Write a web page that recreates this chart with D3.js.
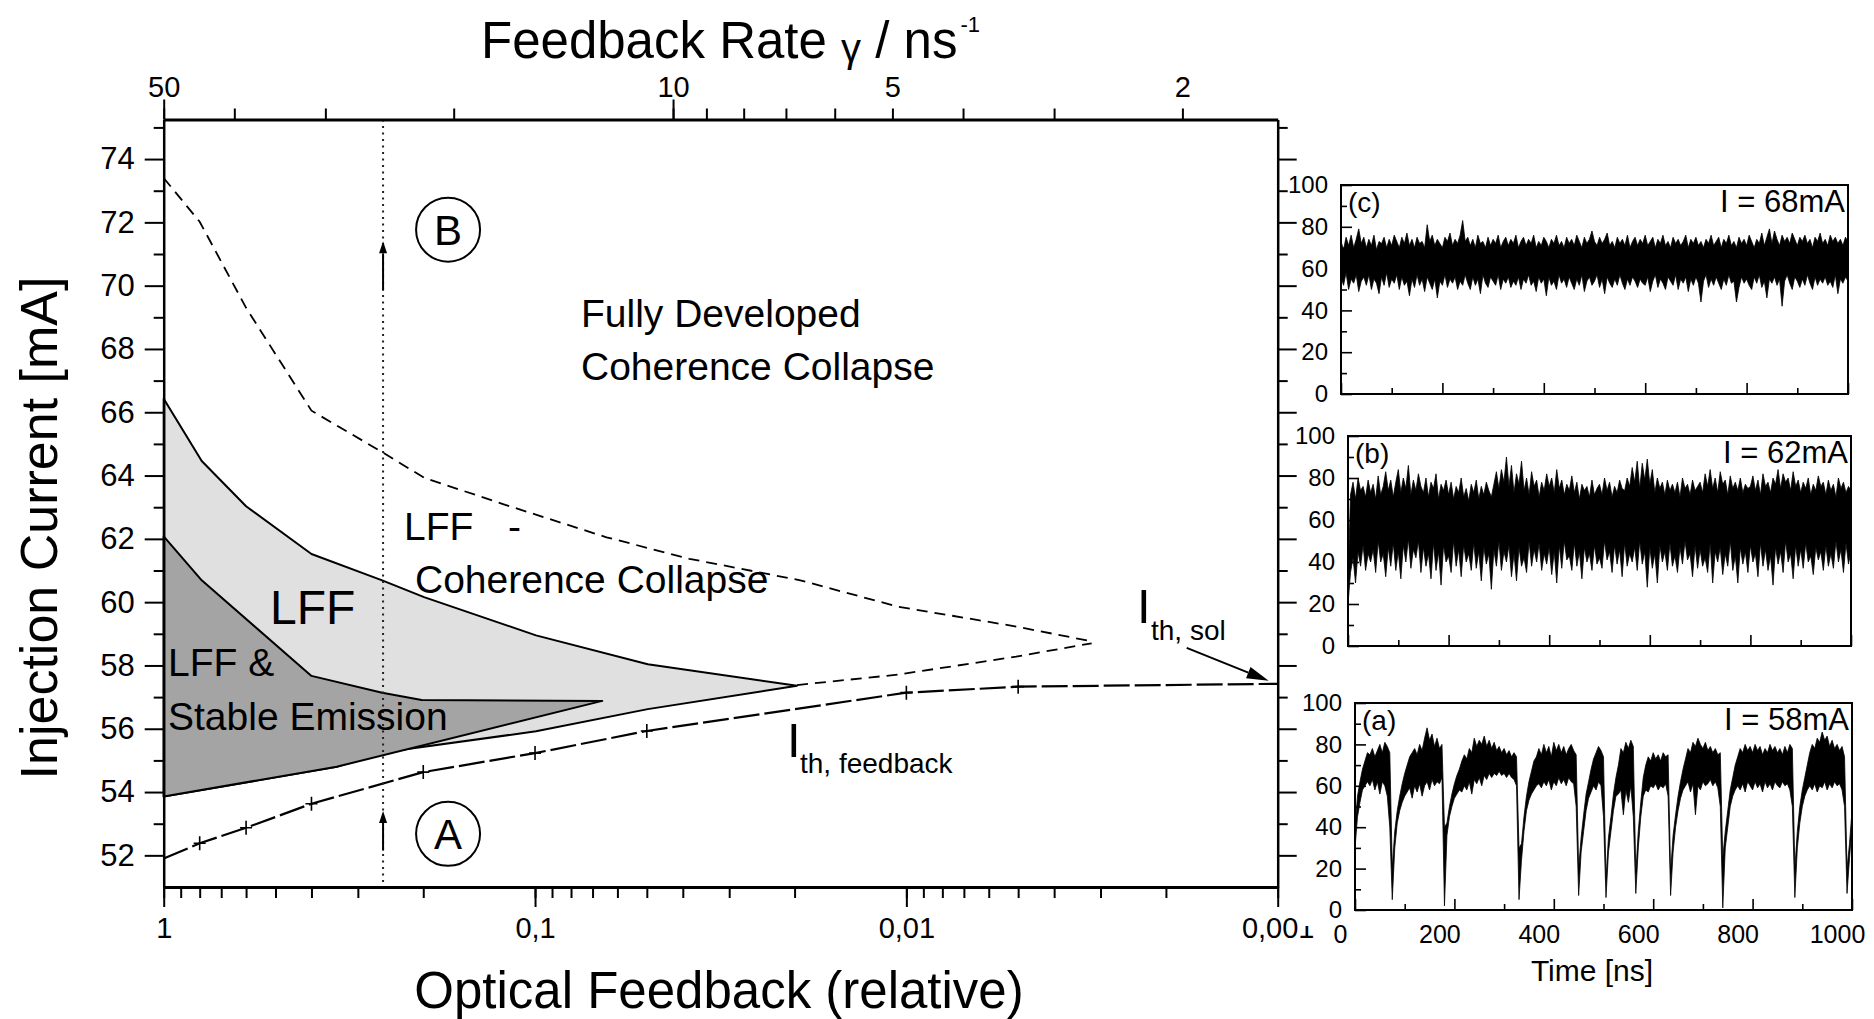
<!DOCTYPE html>
<html>
<head>
<meta charset="utf-8">
<script src="https://cdn.jsdelivr.net/npm/d3@7"></script>
<style>
  body { margin: 0; background: #fff; }
  svg { display: block; }
</style>
</head>
<body>
<script>
// ---------------- Regime map data ----------------
// x: relative optical feedback (log), y: injection current in mA
const feedbackMajor = [1, 0.1, 0.01, 0.001];
const feedbackMajorLabels = ["1", "0,1", "0,01", "0,001"];
const rateLabelled = [50, 10, 5, 2];
const rateLong = [50, 10];
const rateMinor = [40, 30, 20, 9, 8, 7, 6, 4, 3];
const currentMajor = [52, 54, 56, 58, 60, 62, 64, 66, 68, 70, 72, 74];
const currentMinor = [53, 55, 57, 59, 61, 63, 65, 67, 69, 71, 73, 75];

// LFF region (light grey)
const lffTopF = [1, 0.79, 0.60, 0.40, 0.258, 0.199, 0.0994, 0.0497, 0.0197];
const lffTopI = [66.43, 64.46, 63.03, 61.52, 60.69, 60.16, 58.95, 58.04, 57.36];
const lffBottomF = [0.0197, 0.0497, 0.0994, 0.258, 0.342, 1];
const lffBottomI = [57.36, 56.62, 55.92, 55.25, 54.80, 53.86];

// LFF & stable emission region (dark grey)
const stableTopF = [1, 0.79, 0.40, 0.258, 0.202, 0.0659];
const stableTopI = [62.08, 60.69, 57.67, 57.14, 56.91, 56.88];
const stableBottomF = [0.0659, 0.342, 1];
const stableBottomI = [56.88, 54.80, 53.86];

// boundary to fully developed coherence collapse (dashed)
const ccUpperF = [1, 0.80, 0.60, 0.40, 0.258, 0.199, 0.122, 0.0642, 0.0384, 0.0193, 0.01055, 0.00506, 0.00317];
const ccUpperI = [73.40, 72.02, 69.30, 66.05, 64.74, 63.93, 63.10, 62.05, 61.37, 60.69, 59.86, 59.23, 58.76];
const ccLowerF = [0.0197, 0.01055, 0.00506, 0.00317];
const ccLowerI = [57.38, 57.71, 58.28, 58.70];

// threshold current with feedback (measured points marked with +)
const thrF = [1, 0.8, 0.6, 0.4, 0.2, 0.1, 0.05, 0.01, 0.005, 0.001];
const thrI = [51.90, 52.38, 52.87, 53.63, 54.63, 55.23, 55.93, 57.14, 57.33, 57.42];
const thrMeasured = [0.8, 0.6, 0.4, 0.2, 0.1, 0.05, 0.01, 0.005];

// feedback rate at which the time traces were recorded
const probeRate = 25;

// ---------------- Time traces (output power, 5 ns bins: upper / lower envelope) ----------------
const sampleStepNs = 5;
const timeLabels = [0, 200, 400, 600, 800, 1000];
const timeMinor = [100, 300, 500, 700, 900];
const powerLabels = [0, 20, 40, 60, 80, 100];
const powerMinor = [10, 30, 50, 70, 90];

const traceAHi = [
  40,55,62,68,72,76,75,78,74,77,
  80,76,81,79,76,20,38,48,55,61,
  66,70,74,76,78,75,80,77,83,88,
  82,85,79,83,78,80,40,42,50,56,
  61,65,68,72,75,73,78,76,83,79,
  82,80,84,79,82,78,81,77,79,76,
  78,75,77,74,76,74,30,32,45,55,
  62,67,72,74,78,75,80,76,79,74,
  81,77,80,76,79,75,78,80,77,75,
  20,35,46,56,62,68,73,76,79,77,
  74,15,35,45,56,64,70,78,76,81,
  78,82,79,18,38,52,64,70,74,72,
  76,73,75,72,76,74,75,18,36,46,
  55,62,68,73,78,76,81,79,83,80,
  78,81,77,79,76,78,75,76,25,38,
  48,58,64,70,74,78,76,80,77,79,
  76,80,77,79,75,78,76,80,77,79,
  76,78,75,79,76,80,78,20,38,50,
  58,64,70,76,80,78,83,81,86,82,
  84,79,82,78,80,77,79,74,20,32,
  48];
const traceALo = [
  30,45,52,58,60,62,60,63,58,62,
  56,62,60,55,40,5,30,42,48,52,
  55,57,59,54,60,57,61,55,60,62,
  58,63,60,62,61,64,2,36,45,50,
  54,56,58,57,60,58,62,56,63,61,
  64,60,65,63,66,64,66,65,67,65,
  66,64,66,64,63,60,5,24,38,48,
  53,56,58,60,61,59,62,60,63,58,
  62,60,64,61,63,60,64,62,61,50,
  7,28,38,48,54,57,60,58,62,60,
  45,6,28,38,48,55,56,58,46,58,
  52,60,45,8,30,45,55,58,57,60,
  59,61,58,60,59,61,55,7,28,40,
  48,54,58,60,62,57,61,46,60,58,
  62,60,61,63,60,62,59,50,1,30,
  40,50,55,58,60,58,61,57,62,60,
  58,62,59,61,57,62,59,61,58,62,
  60,59,62,60,61,58,50,6,30,42,
  50,55,58,60,58,61,57,60,59,62,
  58,61,59,62,60,61,58,50,8,25,
  40];

const traceBHi = [
  30,72,78,70,80,74,76,71,79,73,
  77,70,81,72,76,83,74,79,71,78,
  84,73,80,75,86,72,79,74,82,76,
  73,80,71,78,75,82,70,77,74,79,
  72,78,70,76,73,80,71,75,69,77,
  73,79,70,76,72,78,74,71,77,83,
  75,84,78,90,76,86,73,82,77,88,
  74,80,72,83,76,79,71,78,74,82,
  76,80,73,84,75,79,72,77,74,81,
  73,78,70,77,74,76,71,79,72,75,
  77,72,80,74,78,71,76,73,79,75,
  74,80,76,85,78,88,75,87,79,89,
  77,84,73,80,75,78,72,79,74,77,
  73,78,71,80,75,77,72,79,74,76,
  78,73,82,76,84,75,80,73,83,77,
  79,72,81,75,78,74,80,73,77,75,
  76,81,74,79,72,82,76,78,73,80,
  77,84,75,82,78,80,74,83,76,79,
  73,78,75,80,72,77,74,81,76,78,
  72,79,74,77,71,80,75,78,73,76,
  74];
const traceBLo = [
  20,35,42,30,45,38,48,36,44,40,
  46,35,50,40,44,33,47,38,49,36,
  45,32,48,40,51,37,46,42,50,35,
  47,38,44,32,49,36,45,29,48,40,
  43,35,50,38,46,33,48,40,44,36,
  49,37,45,31,47,39,44,27,46,38,
  50,36,45,40,48,33,44,31,47,38,
  42,35,50,38,46,40,49,36,44,39,
  47,34,45,30,48,37,50,41,43,36,
  49,38,45,32,47,40,44,36,48,39,
  42,37,50,41,45,35,48,39,46,33,
  49,38,44,40,47,36,50,39,45,28,
  47,37,44,30,48,40,45,36,49,38,
  43,35,47,39,50,41,44,33,48,37,
  46,38,42,35,49,30,45,40,47,34,
  44,38,50,36,43,30,47,39,45,35,
  48,40,44,33,49,38,46,36,43,29,
  47,39,45,35,50,40,44,32,48,38,
  46,37,49,40,43,34,47,41,45,36,
  48,38,44,37,50,40,46,35,49,39,
  45];

const traceCHi = [
  73,69,75,71,76,70,74,79,72,75,
  70,74,71,76,69,73,72,75,70,74,
  71,76,73,70,75,72,77,71,74,70,
  75,72,73,70,81,73,76,71,74,72,
  70,75,73,77,71,74,72,76,83,73,
  75,71,74,70,76,72,73,70,75,71,
  74,72,76,70,73,75,71,74,72,76,
  70,73,75,71,74,72,76,70,73,71,
  75,73,70,74,72,76,71,73,70,75,
  72,74,71,76,73,70,75,72,74,78,
  73,71,75,72,74,77,71,73,70,75,
  72,74,71,76,70,73,75,71,74,72,
  76,71,73,75,70,74,72,76,71,73,
  70,75,72,74,71,73,76,70,74,72,
  75,71,73,70,74,72,76,71,73,75,
  70,74,72,76,71,73,70,75,72,74,
  71,76,73,70,74,72,77,71,75,79,
  72,78,74,71,76,73,75,72,77,74,
  71,75,73,76,72,74,70,75,73,77,
  72,74,71,76,73,75,72,74,71,75,
  73];
const traceCLo = [
  56,52,58,50,55,53,57,49,54,56,
  52,57,50,55,53,48,56,52,58,51,
  55,53,57,50,56,52,54,47,55,51,
  57,52,55,49,56,53,50,55,46,54,
  52,57,51,55,53,56,50,54,52,57,
  53,50,56,52,55,48,57,53,51,56,
  54,52,57,50,55,53,56,51,54,52,
  56,50,55,53,57,52,54,49,56,53,
  55,47,56,52,54,50,57,53,55,51,
  56,53,50,55,52,57,49,54,56,52,
  54,57,51,55,48,56,53,51,55,52,
  57,53,50,55,52,56,54,51,55,53,
  52,56,49,54,57,51,55,53,50,56,
  54,52,57,50,55,53,56,49,55,52,
  56,53,44,54,57,51,55,52,56,53,
  50,55,52,57,53,54,44,51,56,53,
  55,52,50,56,53,57,51,54,46,55,
  53,56,52,55,42,54,57,53,50,56,
  54,51,55,52,57,53,50,56,52,55,
  53,56,52,54,51,57,48,55,53,56,
  54];

// ---------------- Drawing ----------------
const W = 1874, H = 1019;
const FONT = '"Liberation Sans", Arial, Helvetica, sans-serif';
const svg = d3.select("body").append("svg")
  .attr("width", W).attr("height", H)
  .attr("font-family", FONT);

const plot = { left: 163.7, right: 1277.7, top: 119.5, bottom: 887 };
const x = d3.scaleLog().domain([1, 0.001]).range([plot.left, plot.right]);
const xRate = d3.scaleLog().domain([50, 1.48]).range([plot.left, plot.right]);
const y = d3.scaleLinear().domain([51, 75.25]).range([plot.bottom, plot.top]);

const pts = (F, I) => F.map((f, i) => [x(f), y(I[i])]);
const line = d3.line();

// LFF region
const lffPoly = pts(lffTopF, lffTopI).concat(pts(lffBottomF, lffBottomI).slice(1));
svg.append("path").attr("d", line(lffPoly) + "Z")
  .attr("fill", "#e0e0e0").attr("stroke", "#000").attr("stroke-width", 2)
  .attr("stroke-linejoin", "round");

// LFF & stable emission region
const stablePoly = pts(stableTopF, stableTopI).concat(pts(stableBottomF, stableBottomI).slice(1));
svg.append("path").attr("d", line(stablePoly) + "Z")
  .attr("fill", "#a4a4a4").attr("stroke", "#000").attr("stroke-width", 2)
  .attr("stroke-linejoin", "round");

// coherence collapse boundaries
[[ccUpperF, ccUpperI], [ccLowerF, ccLowerI]].forEach(([F, I]) => {
  svg.append("path").attr("d", line(pts(F, I)))
    .attr("fill", "none").attr("stroke", "#000").attr("stroke-width", 1.8)
    .attr("stroke-dasharray", "11,7");
});

// threshold current with feedback
svg.append("path").attr("d", line(pts(thrF, thrI)))
  .attr("fill", "none").attr("stroke", "#000").attr("stroke-width", 2.2)
  .attr("stroke-dasharray", "26,5");
thrMeasured.forEach(f => {
  const i = thrF.indexOf(f);
  const px = x(f), py = y(thrI[i]);
  svg.append("path").attr("d", `M${px - 6},${py}h12M${px},${py - 7}v14`)
    .attr("stroke", "#000").attr("stroke-width", 1.6).attr("fill", "none");
});

// vertical probe line at the chosen feedback rate
const px0 = xRate(probeRate);
svg.append("line").attr("x1", px0).attr("x2", px0)
  .attr("y1", plot.top).attr("y2", plot.bottom)
  .attr("stroke", "#222").attr("stroke-width", 2).attr("stroke-dasharray", "2,4.5");

function arrow(x1, y1, x2, y2, len, half, sw) {
  const a = Math.atan2(y2 - y1, x2 - x1);
  const bx = x2 - len * Math.cos(a), by = y2 - len * Math.sin(a);
  svg.append("line").attr("x1", x1).attr("y1", y1).attr("x2", bx).attr("y2", by)
    .attr("stroke", "#000").attr("stroke-width", sw);
  svg.append("path")
    .attr("d", `M${x2},${y2}L${bx - half * Math.sin(a)},${by + half * Math.cos(a)}L${bx + half * Math.sin(a)},${by - half * Math.cos(a)}Z`)
    .attr("fill", "#000");
}
arrow(px0, y(69.85), px0, y(71.4), 12, 4, 2);
arrow(px0, y(52.15), px0, y(53.4), 12, 4, 2);

// operating points A and B
[["B", 71.77], ["A", 52.68]].forEach(([lab, I]) => {
  const cx = px0 + 65, cy = y(I);
  svg.append("circle").attr("cx", cx).attr("cy", cy).attr("r", 32)
    .attr("fill", "none").attr("stroke", "#000").attr("stroke-width", 2);
  svg.append("text").attr("x", cx).attr("y", cy + 15).attr("text-anchor", "middle")
    .attr("font-size", 42).text(lab);
});

// region labels
function label(tx, ty, s, fs) {
  return svg.append("text").attr("x", tx).attr("y", ty).attr("font-size", fs)
    .attr("fill", "#000").text(s);
}
label(581, 327, "Fully Developed", 39);
label(581, 380, "Coherence Collapse", 39);
label(404, 540, "LFF", 39);
label(508, 540, "-", 39);
label(415, 593, "Coherence Collapse", 39);
label(270, 624, "LFF", 48);
label(168, 676, "LFF &", 39);
label(168, 730, "Stable Emission", 39);

// threshold labels
label(787, 757, "I", 49);
label(800, 773, "th, feedback", 28);
label(1137, 623, "I", 49);
label(1151, 640, "th, sol", 28);
const solX = x(0.001) - 9, solY = y(57.42) - 3;
arrow(solX - 82, solY - 33, solX, solY, 22, 6, 2);

// ---------------- Axes of the regime map ----------------
function styleAxis(g, fs, domainW) {
  g.attr("font-family", FONT).attr("font-size", fs);
  g.select(".domain").attr("stroke", "#000").attr("stroke-width", domainW);
  g.selectAll(".tick line").attr("stroke", "#000").attr("stroke-width", 2);
  g.selectAll(".tick text").attr("fill", "#000");
}

// left: injection current
const gL = svg.append("g").attr("transform", `translate(${plot.left},0)`)
  .call(d3.axisLeft(y).tickValues(currentMajor).tickSizeInner(19).tickSizeOuter(0)
    .tickPadding(10).tickFormat(d3.format("d")));
styleAxis(gL, 31, 2.5);
const gLm = svg.append("g").attr("transform", `translate(${plot.left},0)`)
  .call(d3.axisLeft(y).tickValues(currentMinor).tickSize(10).tickFormat(""));
styleAxis(gLm, 31, 0); gLm.select(".domain").remove();

// right: same current ticks
const gR = svg.append("g").attr("transform", `translate(${plot.right},0)`)
  .call(d3.axisRight(y).tickValues(currentMajor).tickSizeInner(19).tickSizeOuter(0).tickFormat(""));
styleAxis(gR, 31, 2.5);
const gRm = svg.append("g").attr("transform", `translate(${plot.right},0)`)
  .call(d3.axisRight(y).tickValues(currentMinor).tickSize(10).tickFormat(""));
styleAxis(gRm, 31, 0); gRm.select(".domain").remove();

// bottom: relative optical feedback
const gBm = svg.append("g").attr("transform", `translate(0,${plot.bottom})`)
  .call(d3.axisBottom(x).tickValues(x.ticks()).tickSize(11).tickFormat(""));
styleAxis(gBm, 29, 0); gBm.select(".domain").remove();
const gB = svg.append("g").attr("transform", `translate(0,${plot.bottom})`)
  .call(d3.axisBottom(x).tickValues(feedbackMajor).tickSizeInner(20).tickSizeOuter(0)
    .tickPadding(10).tickFormat((d, i) => feedbackMajorLabels[i]));
styleAxis(gB, 29, 3);

// top: feedback rate
const gTm = svg.append("g").attr("transform", `translate(0,${plot.top})`)
  .call(d3.axisTop(xRate).tickValues(rateMinor).tickSize(11).tickFormat(""));
styleAxis(gTm, 29, 0); gTm.select(".domain").remove();
const gTl = svg.append("g").attr("transform", `translate(0,${plot.top})`)
  .call(d3.axisTop(xRate).tickValues(rateLong).tickSize(20).tickFormat(""));
styleAxis(gTl, 29, 0); gTl.select(".domain").remove();
const gT = svg.append("g").attr("transform", `translate(0,${plot.top})`)
  .call(d3.axisTop(xRate).tickValues(rateLabelled).tickSizeInner(11).tickSizeOuter(0)
    .tickPadding(12).tickFormat(d3.format("d")));
styleAxis(gT, 29, 3);

// axis titles
svg.append("text").attr("transform", "translate(57,528) rotate(-90)")
  .attr("text-anchor", "middle").attr("font-size", 52).text("Injection Current [mA]");
svg.append("text").attr("x", 719).attr("y", 1008)
  .attr("text-anchor", "middle").attr("font-size", 51).text("Optical Feedback (relative)");
const tt = svg.append("text").attr("x", 481).attr("y", 58).attr("font-size", 51);
tt.append("tspan").text("Feedback Rate ");
tt.append("tspan").attr("font-size", 40).attr("dy", 4).text("γ");
tt.append("tspan").attr("dy", -4).text(" / ns");
tt.append("tspan").attr("font-size", 22).attr("dy", -26).attr("dx", 3).text("-1");

// the inset block sits on top of the last tick label
svg.append("rect").attr("x", 1299).attr("y", 895).attr("width", 30).attr("height", 31).attr("fill", "#fff");

// ---------------- Time trace panels ----------------
const panels = [
  { tag: "(c)", current: 68, hi: traceCHi, lo: traceCLo, left: 1341, right: 1848, top: 185, bottom: 394, times: false },
  { tag: "(b)", current: 62, hi: traceBHi, lo: traceBLo, left: 1348, right: 1851, top: 436, bottom: 646, times: false },
  { tag: "(a)", current: 58, hi: traceAHi, lo: traceALo, left: 1355, right: 1852, top: 703, bottom: 910, times: true }
];

panels.forEach((p, k) => {
  const xs = d3.scaleLinear().domain([0, 1000]).range([p.left, p.right]);
  const ys = d3.scaleLinear().domain([0, 100]).range([p.bottom, p.top]);
  const g = svg.append("g");

  const clipId = "clip" + k;
  svg.append("clipPath").attr("id", clipId).append("rect")
    .attr("x", p.left).attr("y", p.top).attr("width", p.right - p.left).attr("height", p.bottom - p.top);

  const area = d3.area()
    .x((d, i) => xs(i * sampleStepNs))
    .y0((d, i) => ys(p.lo[i]))
    .y1((d, i) => ys(p.hi[i]));
  g.append("path").datum(p.hi).attr("d", area).attr("clip-path", `url(#${clipId})`)
    .attr("fill", "#000").attr("stroke", "#000").attr("stroke-width", 0.8)
    .attr("stroke-linejoin", "round");

  // y ticks (inward) with labels on the left
  const gy = g.append("g").attr("transform", `translate(${p.left},0)`)
    .call(d3.axisLeft(ys).tickValues(powerLabels).tickSizeInner(-11).tickSizeOuter(0).tickPadding(13));
  styleAxis(gy, 24, 0); gy.select(".domain").remove();
  gy.selectAll(".tick line").attr("stroke-width", 1.6);
  const gym = g.append("g").attr("transform", `translate(${p.left},0)`)
    .call(d3.axisLeft(ys).tickValues(powerMinor).tickSize(-6).tickFormat(""));
  styleAxis(gym, 24, 0); gym.select(".domain").remove();
  gym.selectAll(".tick line").attr("stroke-width", 1.6);

  // x ticks (inward)
  const gx = g.append("g").attr("transform", `translate(0,${p.bottom})`)
    .call(d3.axisBottom(xs).tickValues(timeLabels).tickSizeInner(-11).tickSizeOuter(0)
      .tickPadding(15).tickFormat(p.times ? d3.format("d") : ""));
  styleAxis(gx, 25, 0); gx.select(".domain").remove();
  gx.selectAll(".tick line").attr("stroke-width", 1.6);
  gx.selectAll(".tick text").attr("dx", -15);
  const gxm = g.append("g").attr("transform", `translate(0,${p.bottom})`)
    .call(d3.axisBottom(xs).tickValues(timeMinor).tickSize(-6).tickFormat(""));
  styleAxis(gxm, 25, 0); gxm.select(".domain").remove();
  gxm.selectAll(".tick line").attr("stroke-width", 1.6);

  // frame
  g.append("rect").attr("x", p.left).attr("y", p.top)
    .attr("width", p.right - p.left).attr("height", p.bottom - p.top)
    .attr("fill", "none").attr("stroke", "#000").attr("stroke-width", 2);

  g.append("text").attr("x", p.left + 7).attr("y", p.top + 27).attr("font-size", 28).text(p.tag);
  g.append("text").attr("x", p.right - 3).attr("y", p.top + 27).attr("text-anchor", "end")
    .attr("font-size", 31).text(`I = ${p.current}mA`);

  if (p.times) {
    g.append("text").attr("x", 1592).attr("y", 981).attr("text-anchor", "middle")
      .attr("font-size", 30).text("Time [ns]");
  }
});
</script>
</body>
</html>
